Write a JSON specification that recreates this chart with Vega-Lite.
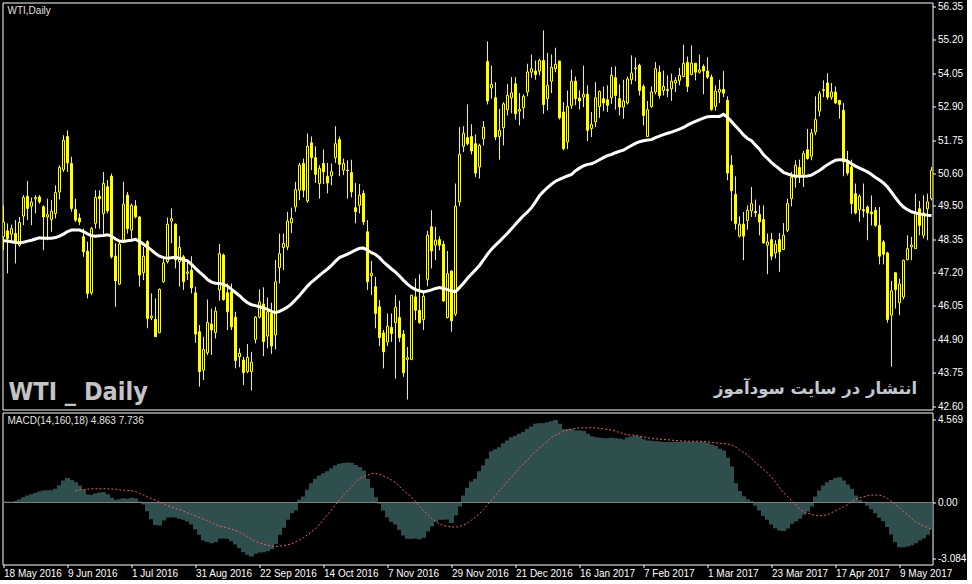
{
"$schema":"https://vega.github.io/schema/vega-lite/v6.json",
"background":"#000000",
"padding":{"left":1.5,"top":0.5,"right":0,"bottom":0},
"bounds":"flush",
"spacing":3,
"datasets":{"d":[
{"i":0,"o":48.43,"h":49.51,"l":47.97,"c":48.94,"a":48.29,"m":0.06},
{"i":1,"o":48.63,"h":48.89,"l":47.17,"c":48.37,"a":48.28,"m":0.06},
{"i":2,"o":48.52,"h":48.85,"l":48.30,"c":48.71,"a":48.26,"m":0.04},
{"i":3,"o":48.54,"h":49.00,"l":47.51,"c":48.26,"a":48.23,"m":0.09},
{"i":4,"o":48.14,"h":49.11,"l":48.08,"c":48.92,"a":48.22,"m":0.17},
{"i":5,"o":49.14,"h":49.86,"l":48.83,"c":49.78,"a":48.24,"m":0.29},
{"i":6,"o":49.82,"h":50.35,"l":49.00,"c":49.40,"a":48.28,"m":0.39},
{"i":7,"o":49.48,"h":49.78,"l":48.83,"c":49.62,"a":48.31,"m":0.46},
{"i":8,"o":49.73,"h":49.86,"l":49.23,"c":49.78,"a":48.35,"m":0.53},
{"i":9,"o":49.80,"h":49.86,"l":49.57,"c":49.63,"a":48.39,"m":0.61},
{"i":10,"o":49.46,"h":49.51,"l":47.97,"c":49.11,"a":48.38,"m":0.66},
{"i":11,"o":49.11,"h":49.74,"l":48.31,"c":49.19,"a":48.38,"m":0.68},
{"i":12,"o":49.02,"h":49.69,"l":48.60,"c":49.31,"a":48.38,"m":0.68},
{"i":13,"o":49.23,"h":50.20,"l":49.06,"c":49.95,"a":48.40,"m":0.76},
{"i":14,"o":49.97,"h":50.89,"l":49.71,"c":50.81,"a":48.45,"m":0.96},
{"i":15,"o":50.74,"h":51.92,"l":50.66,"c":51.75,"a":48.52,"m":1.22},
{"i":16,"o":51.88,"h":52.09,"l":50.66,"c":50.97,"a":48.61,"m":1.35},
{"i":17,"o":50.95,"h":51.18,"l":49.29,"c":49.40,"a":48.66,"m":1.25},
{"i":18,"o":49.37,"h":49.74,"l":48.94,"c":49.00,"a":48.66,"m":1.12,"s":0.65},
{"i":19,"o":49.07,"h":49.23,"l":48.83,"c":48.94,"a":48.66,"m":0.94,"s":0.70},
{"i":20,"o":48.43,"h":48.71,"l":47.74,"c":47.91,"a":48.61,"m":0.70,"s":0.72},
{"i":21,"o":47.93,"h":48.26,"l":46.31,"c":46.48,"a":48.53,"m":0.44,"s":0.74},
{"i":22,"o":46.50,"h":48.77,"l":46.42,"c":48.71,"a":48.46,"m":0.41,"s":0.76},
{"i":23,"o":48.89,"h":50.03,"l":48.71,"c":49.78,"a":48.45,"m":0.50,"s":0.76},
{"i":24,"o":49.82,"h":50.03,"l":48.71,"c":49.74,"a":48.46,"m":0.55,"s":0.76},
{"i":25,"o":49.23,"h":50.66,"l":48.48,"c":50.26,"a":48.47,"m":0.57,"s":0.76},
{"i":26,"o":50.15,"h":50.38,"l":49.23,"c":49.32,"a":48.50,"m":0.46,"s":0.76},
{"i":27,"o":50.51,"h":50.60,"l":47.68,"c":47.74,"a":48.45,"m":0.26,"s":0.74},
{"i":28,"o":47.76,"h":48.20,"l":46.02,"c":46.91,"a":48.35,"m":0.15,"s":0.74},
{"i":29,"o":46.80,"h":48.26,"l":46.77,"c":48.18,"a":48.28,"m":0.18,"s":0.70},
{"i":30,"o":48.31,"h":50.32,"l":48.26,"c":49.55,"a":48.27,"m":0.24,"s":0.68},
{"i":31,"o":49.86,"h":49.97,"l":48.54,"c":48.71,"a":48.29,"m":0.20,"s":0.66},
{"i":32,"o":48.66,"h":49.57,"l":48.26,"c":49.51,"a":48.31,"m":0.26,"s":0.65},
{"i":33,"o":49.49,"h":49.69,"l":49.06,"c":49.11,"a":48.34,"m":0.22,"s":0.61},
{"i":34,"o":49.11,"h":49.14,"l":46.71,"c":47.11,"a":48.27,"m":0.06,"s":0.50},
{"i":35,"o":47.19,"h":48.08,"l":46.94,"c":47.76,"a":48.17,"m":-0.11,"s":0.41},
{"i":36,"o":48.26,"h":48.31,"l":45.28,"c":45.62,"a":48.08,"m":-0.48,"s":0.31},
{"i":37,"o":45.64,"h":46.48,"l":45.56,"c":45.70,"a":47.97,"m":-0.92,"s":0.22},
{"i":38,"o":45.59,"h":46.31,"l":44.99,"c":44.99,"a":47.85,"m":-1.24,"s":0.13},
{"i":39,"o":45.13,"h":46.65,"l":45.11,"c":46.62,"a":47.76,"m":-1.27,"s":0.04},
{"i":40,"o":46.88,"h":47.68,"l":46.85,"c":47.53,"a":47.71,"m":-1.00,"s":-0.06},
{"i":41,"o":47.57,"h":49.09,"l":47.51,"c":48.86,"a":47.69,"m":-0.83,"s":-0.17},
{"i":42,"o":48.97,"h":49.40,"l":48.20,"c":49.05,"a":47.71,"m":-0.81,"s":-0.24},
{"i":43,"o":48.86,"h":48.89,"l":47.34,"c":47.63,"a":47.72,"m":-0.83,"s":-0.33},
{"i":44,"o":47.57,"h":48.45,"l":46.71,"c":48.06,"a":47.69,"m":-0.90,"s":-0.39},
{"i":45,"o":47.74,"h":47.80,"l":46.60,"c":46.88,"a":47.64,"m":-0.96,"s":-0.48},
{"i":46,"o":47.17,"h":47.57,"l":46.94,"c":47.22,"a":47.60,"m":-1.05,"s":-0.57},
{"i":47,"o":47.28,"h":47.76,"l":46.48,"c":46.67,"a":47.48,"m":-1.22,"s":-0.66},
{"i":48,"o":46.50,"h":46.71,"l":44.78,"c":45.08,"a":47.34,"m":-1.49,"s":-0.74},
{"i":49,"o":45.16,"h":45.39,"l":43.27,"c":43.79,"a":47.21,"m":-1.79,"s":-0.83},
{"i":50,"o":43.84,"h":44.99,"l":43.50,"c":44.55,"a":47.09,"m":-2.10,"s":-0.92},
{"i":51,"o":44.44,"h":46.27,"l":44.36,"c":45.48,"a":46.96,"m":-2.19,"s":-1.01},
{"i":52,"o":45.43,"h":45.96,"l":44.36,"c":45.22,"a":46.87,"m":-2.25,"s":-1.12},
{"i":53,"o":45.13,"h":46.02,"l":44.93,"c":45.87,"a":46.83,"m":-2.18,"s":-1.22},
{"i":54,"o":46.60,"h":48.18,"l":46.23,"c":47.85,"a":46.82,"m":-2.01,"s":-1.31},
{"i":55,"o":47.80,"h":47.85,"l":46.23,"c":46.27,"a":46.79,"m":-1.99,"s":-1.36},
{"i":56,"o":46.50,"h":46.82,"l":45.22,"c":45.85,"a":46.73,"m":-2.01,"s":-1.40},
{"i":57,"o":46.54,"h":46.82,"l":45.22,"c":45.33,"a":46.62,"m":-2.14,"s":-1.47},
{"i":58,"o":45.66,"h":45.85,"l":43.90,"c":44.17,"a":46.51,"m":-2.32,"s":-1.55},
{"i":59,"o":44.30,"h":44.59,"l":43.94,"c":44.42,"a":46.40,"m":-2.51,"s":-1.64},
{"i":60,"o":44.19,"h":44.30,"l":43.33,"c":43.75,"a":46.27,"m":-2.75,"s":-1.77},
{"i":61,"o":43.79,"h":44.74,"l":43.73,"c":44.28,"a":46.16,"m":-2.89,"s":-1.90},
{"i":62,"o":43.79,"h":44.47,"l":43.14,"c":44.11,"a":46.09,"m":-2.99,"s":-2.03},
{"i":63,"o":44.90,"h":45.70,"l":44.76,"c":45.66,"a":46.06,"m":-2.84,"s":-2.16},
{"i":64,"o":45.66,"h":46.62,"l":45.62,"c":46.19,"a":46.02,"m":-2.77,"s":-2.23},
{"i":65,"o":46.11,"h":46.69,"l":44.32,"c":44.82,"a":45.98,"m":-2.75,"s":-2.30},
{"i":66,"o":45.01,"h":46.34,"l":44.59,"c":45.85,"a":45.93,"m":-2.69,"s":-2.36},
{"i":67,"o":45.79,"h":46.16,"l":44.40,"c":44.67,"a":45.86,"m":-2.58,"s":-2.40},
{"i":68,"o":45.05,"h":47.63,"l":44.55,"c":46.88,"a":45.82,"m":-2.29,"s":-2.43},
{"i":69,"o":47.37,"h":48.54,"l":46.82,"c":47.85,"a":45.86,"m":-1.79,"s":-2.42},
{"i":70,"o":48.06,"h":48.54,"l":47.28,"c":48.20,"a":45.93,"m":-1.40,"s":-2.38},
{"i":71,"o":48.08,"h":49.29,"l":47.97,"c":48.97,"a":46.01,"m":-0.96,"s":-2.34},
{"i":72,"o":48.91,"h":49.43,"l":48.56,"c":49.06,"a":46.12,"m":-0.59,"s":-2.29},
{"i":73,"o":49.46,"h":50.32,"l":49.29,"c":50.05,"a":46.26,"m":-0.44,"s":-2.19},
{"i":74,"o":50.03,"h":50.97,"l":49.69,"c":50.89,"a":46.41,"m":0.15,"s":-2.08},
{"i":75,"o":50.95,"h":51.12,"l":49.78,"c":50.03,"a":46.57,"m":0.33,"s":-1.94},
{"i":76,"o":49.66,"h":51.98,"l":49.60,"c":51.54,"a":46.73,"m":0.70,"s":-1.79},
{"i":77,"o":51.66,"h":51.88,"l":50.72,"c":51.15,"a":46.87,"m":1.07,"s":-1.62},
{"i":78,"o":51.15,"h":51.54,"l":50.28,"c":50.58,"a":46.98,"m":1.31,"s":-1.46},
{"i":79,"o":50.26,"h":50.89,"l":49.74,"c":50.78,"a":47.10,"m":1.49,"s":-1.22},
{"i":80,"o":50.95,"h":51.43,"l":50.24,"c":50.66,"a":47.21,"m":1.62,"s":-0.94},
{"i":81,"o":50.51,"h":50.97,"l":49.92,"c":50.28,"a":47.32,"m":1.73,"s":-0.68},
{"i":82,"o":50.53,"h":50.95,"l":50.20,"c":50.67,"a":47.44,"m":1.88,"s":-0.41},
{"i":83,"o":51.15,"h":52.23,"l":50.97,"c":51.63,"a":47.59,"m":2.05,"s":-0.13},
{"i":84,"o":51.77,"h":51.88,"l":50.51,"c":50.92,"a":47.71,"m":2.14,"s":0.15},
{"i":85,"o":50.72,"h":51.12,"l":50.55,"c":50.95,"a":47.77,"m":2.18,"s":0.41},
{"i":86,"o":50.72,"h":51.06,"l":49.74,"c":50.70,"a":47.83,"m":2.21,"s":0.65},
{"i":87,"o":50.64,"h":51.08,"l":49.78,"c":49.97,"a":47.90,"m":2.18,"s":0.87},
{"i":88,"o":49.43,"h":50.28,"l":48.89,"c":49.29,"a":47.97,"m":2.08,"s":1.11},
{"i":89,"o":49.51,"h":50.24,"l":49.23,"c":49.86,"a":48.03,"m":1.97,"s":1.31},
{"i":90,"o":49.92,"h":50.03,"l":48.83,"c":48.94,"a":48.04,"m":1.77,"s":1.44},
{"i":91,"o":48.60,"h":49.00,"l":46.60,"c":46.88,"a":47.97,"m":1.31,"s":1.53},
{"i":92,"o":47.09,"h":47.60,"l":46.42,"c":47.17,"a":47.88,"m":0.81,"s":1.60},
{"i":93,"o":46.71,"h":47.05,"l":45.28,"c":45.79,"a":47.82,"m":0.29,"s":1.60},
{"i":94,"o":46.02,"h":46.25,"l":44.67,"c":44.96,"a":47.71,"m":-0.07,"s":1.57},
{"i":95,"o":45.12,"h":45.22,"l":43.90,"c":44.47,"a":47.56,"m":-0.44,"s":1.47},
{"i":96,"o":44.81,"h":45.79,"l":44.67,"c":45.35,"a":47.44,"m":-0.81,"s":1.38},
{"i":97,"o":45.31,"h":45.79,"l":44.81,"c":45.10,"a":47.32,"m":-1.07,"s":1.25},
{"i":98,"o":45.47,"h":46.42,"l":43.55,"c":46.00,"a":47.21,"m":-1.22,"s":1.11},
{"i":99,"o":45.65,"h":46.23,"l":44.81,"c":44.96,"a":47.08,"m":-1.51,"s":0.90},
{"i":100,"o":45.08,"h":45.22,"l":43.61,"c":43.75,"a":46.93,"m":-1.83,"s":0.66},
{"i":101,"o":44.21,"h":44.64,"l":42.83,"c":44.27,"a":46.80,"m":-2.01,"s":0.48},
{"i":102,"o":44.21,"h":46.42,"l":44.18,"c":46.42,"a":46.69,"m":-2.01,"s":0.29},
{"i":103,"o":46.36,"h":46.99,"l":45.56,"c":45.90,"a":46.61,"m":-1.99,"s":0.04},
{"i":104,"o":45.90,"h":47.14,"l":45.44,"c":45.47,"a":46.57,"m":-2.03,"s":-0.22},
{"i":105,"o":45.58,"h":46.57,"l":45.22,"c":46.38,"a":46.53,"m":-1.95,"s":-0.44},
{"i":106,"o":46.96,"h":48.63,"l":46.73,"c":48.48,"a":46.56,"m":-1.60,"s":-0.66},
{"i":107,"o":48.77,"h":49.34,"l":47.34,"c":47.94,"a":46.60,"m":-1.33,"s":-0.87},
{"i":108,"o":48.14,"h":48.77,"l":47.62,"c":48.31,"a":46.65,"m":-1.07,"s":-1.05},
{"i":109,"o":48.33,"h":48.45,"l":47.96,"c":48.14,"a":46.68,"m":-0.96,"s":-1.18},
{"i":110,"o":48.17,"h":48.29,"l":46.19,"c":46.22,"a":46.65,"m":-0.96,"s":-1.27},
{"i":111,"o":45.65,"h":47.94,"l":45.62,"c":47.16,"a":46.61,"m":-0.94,"s":-1.33},
{"i":112,"o":47.25,"h":47.27,"l":45.16,"c":45.54,"a":46.56,"m":-1.14,"s":-1.35},
{"i":113,"o":45.77,"h":50.26,"l":45.70,"c":49.48,"a":46.54,"m":-0.72,"s":-1.36},
{"i":114,"o":49.63,"h":52.20,"l":49.48,"c":51.26,"a":46.68,"m":-0.22,"s":-1.33},
{"i":115,"o":51.54,"h":52.23,"l":51.34,"c":51.99,"a":46.83,"m":0.39,"s":-1.25},
{"i":116,"o":51.84,"h":52.98,"l":51.57,"c":51.63,"a":47.00,"m":0.81,"s":-1.14},
{"i":117,"o":51.88,"h":52.30,"l":51.26,"c":51.38,"a":47.15,"m":1.16,"s":-0.98},
{"i":118,"o":51.63,"h":51.95,"l":50.48,"c":50.62,"a":47.29,"m":1.31,"s":-0.81},
{"i":119,"o":50.83,"h":51.63,"l":50.43,"c":51.57,"a":47.44,"m":1.73,"s":-0.61},
{"i":120,"o":51.80,"h":52.41,"l":51.57,"c":52.20,"a":47.63,"m":2.05,"s":-0.39},
{"i":121,"o":54.46,"h":55.15,"l":52.98,"c":53.10,"a":47.83,"m":2.42,"s":-0.11},
{"i":122,"o":53.55,"h":54.32,"l":53.18,"c":53.67,"a":48.00,"m":2.84,"s":0.13},
{"i":123,"o":53.21,"h":53.75,"l":51.75,"c":51.86,"a":48.14,"m":2.95,"s":0.39},
{"i":124,"o":51.88,"h":52.83,"l":51.08,"c":52.09,"a":48.27,"m":3.06,"s":0.66},
{"i":125,"o":52.18,"h":53.06,"l":51.57,"c":53.00,"a":48.41,"m":3.28,"s":0.90},
{"i":126,"o":52.80,"h":53.69,"l":52.60,"c":53.29,"a":48.55,"m":3.43,"s":1.16},
{"i":127,"o":53.21,"h":53.92,"l":52.68,"c":53.38,"a":48.70,"m":3.61,"s":1.40},
{"i":128,"o":53.69,"h":53.92,"l":52.46,"c":52.66,"a":48.86,"m":3.69,"s":1.66},
{"i":129,"o":52.75,"h":53.37,"l":52.26,"c":52.81,"a":49.01,"m":3.80,"s":1.92},
{"i":130,"o":52.87,"h":53.33,"l":52.49,"c":53.26,"a":49.16,"m":3.91,"s":2.14},
{"i":131,"o":53.41,"h":54.38,"l":53.26,"c":54.10,"a":49.28,"m":4.06,"s":2.36},
{"i":132,"o":54.09,"h":54.70,"l":53.90,"c":54.21,"a":49.43,"m":4.20,"s":2.60},
{"i":133,"o":54.13,"h":54.49,"l":53.83,"c":54.01,"a":49.63,"m":4.35,"s":2.82},
{"i":134,"o":54.13,"h":54.55,"l":53.98,"c":54.49,"a":49.84,"m":4.39,"s":3.02},
{"i":135,"o":54.49,"h":55.53,"l":52.66,"c":52.98,"a":49.99,"m":4.39,"s":3.21},
{"i":136,"o":53.18,"h":54.75,"l":52.78,"c":53.64,"a":50.12,"m":4.44,"s":3.39},
{"i":137,"o":53.78,"h":54.70,"l":53.37,"c":54.26,"a":50.24,"m":4.50,"s":3.60},
{"i":138,"o":54.21,"h":54.93,"l":54.09,"c":54.36,"a":50.34,"m":4.57,"s":3.74},
{"i":139,"o":54.47,"h":54.49,"l":52.46,"c":52.52,"a":50.40,"m":4.35,"s":3.83},
{"i":140,"o":52.72,"h":53.06,"l":51.40,"c":51.46,"a":50.46,"m":4.07,"s":3.93},
{"i":141,"o":51.69,"h":53.46,"l":51.44,"c":52.91,"a":50.52,"m":4.07,"s":4.00},
{"i":142,"o":52.95,"h":54.18,"l":52.83,"c":53.78,"a":50.57,"m":4.06,"s":4.06},
{"i":143,"o":53.78,"h":53.94,"l":52.95,"c":53.18,"a":50.70,"m":3.98,"s":4.11},
{"i":144,"o":53.20,"h":53.46,"l":52.81,"c":53.10,"a":50.79,"m":3.98,"s":4.13},
{"i":145,"o":53.23,"h":54.32,"l":52.89,"c":53.33,"a":50.87,"m":3.95,"s":4.13},
{"i":146,"o":53.33,"h":53.64,"l":51.72,"c":52.09,"a":50.92,"m":3.80,"s":4.13},
{"i":147,"o":52.15,"h":52.72,"l":51.86,"c":52.29,"a":50.94,"m":3.67,"s":4.13},
{"i":148,"o":52.38,"h":53.75,"l":52.20,"c":53.21,"a":51.00,"m":3.61,"s":4.13},
{"i":149,"o":52.91,"h":53.46,"l":52.52,"c":53.43,"a":51.08,"m":3.58,"s":4.11},
{"i":150,"o":53.18,"h":53.60,"l":52.75,"c":53.03,"a":51.15,"m":3.56,"s":4.07},
{"i":151,"o":53.14,"h":53.64,"l":52.72,"c":52.95,"a":51.22,"m":3.56,"s":4.04},
{"i":152,"o":53.21,"h":54.27,"l":53.00,"c":53.98,"a":51.26,"m":3.58,"s":4.00},
{"i":153,"o":53.90,"h":54.29,"l":52.80,"c":53.29,"a":51.32,"m":3.56,"s":3.95},
{"i":154,"o":53.18,"h":53.67,"l":52.60,"c":52.89,"a":51.37,"m":3.52,"s":3.87},
{"i":155,"o":52.89,"h":53.83,"l":52.49,"c":53.10,"a":51.41,"m":3.48,"s":3.80},
{"i":156,"o":53.03,"h":53.94,"l":52.98,"c":53.86,"a":51.49,"m":3.60,"s":3.74},
{"i":157,"o":53.83,"h":54.67,"l":53.67,"c":54.06,"a":51.57,"m":3.65,"s":3.74},
{"i":158,"o":54.21,"h":54.59,"l":53.78,"c":54.24,"a":51.64,"m":3.69,"s":3.71},
{"i":159,"o":54.32,"h":54.38,"l":53.29,"c":53.46,"a":51.70,"m":3.65,"s":3.67},
{"i":160,"o":53.60,"h":53.67,"l":52.26,"c":52.60,"a":51.73,"m":3.50,"s":3.63},
{"i":161,"o":51.88,"h":53.10,"l":51.88,"c":52.80,"a":51.76,"m":3.43,"s":3.58},
{"i":162,"o":52.91,"h":53.60,"l":52.87,"c":53.41,"a":51.77,"m":3.41,"s":3.54},
{"i":163,"o":53.41,"h":54.44,"l":53.33,"c":54.21,"a":51.84,"m":3.39,"s":3.52},
{"i":164,"o":54.09,"h":54.32,"l":53.18,"c":53.29,"a":51.89,"m":3.37,"s":3.50},
{"i":165,"o":53.46,"h":54.15,"l":53.29,"c":53.60,"a":51.94,"m":3.34,"s":3.48},
{"i":166,"o":53.49,"h":53.98,"l":53.23,"c":53.46,"a":51.99,"m":3.34,"s":3.47},
{"i":167,"o":53.52,"h":54.04,"l":53.10,"c":53.78,"a":52.03,"m":3.34,"s":3.45},
{"i":168,"o":53.72,"h":53.92,"l":53.41,"c":53.81,"a":52.08,"m":3.34,"s":3.43},
{"i":169,"o":53.81,"h":54.24,"l":53.64,"c":53.98,"a":52.13,"m":3.34,"s":3.41},
{"i":170,"o":53.94,"h":55.04,"l":53.92,"c":54.40,"a":52.19,"m":3.36,"s":3.39},
{"i":171,"o":54.43,"h":54.63,"l":53.41,"c":53.60,"a":52.27,"m":3.36,"s":3.39},
{"i":172,"o":54.01,"h":55.01,"l":53.98,"c":54.40,"a":52.34,"m":3.36,"s":3.39},
{"i":173,"o":54.40,"h":54.40,"l":53.81,"c":54.09,"a":52.40,"m":3.36,"s":3.39},
{"i":174,"o":54.09,"h":54.70,"l":54.04,"c":54.17,"a":52.46,"m":3.36,"s":3.39},
{"i":175,"o":54.29,"h":54.36,"l":53.33,"c":54.13,"a":52.51,"m":3.34,"s":3.37},
{"i":176,"o":54.13,"h":54.61,"l":53.86,"c":53.92,"a":52.56,"m":3.30,"s":3.36},
{"i":177,"o":53.92,"h":54.01,"l":52.77,"c":52.80,"a":52.57,"m":3.21,"s":3.32},
{"i":178,"o":52.91,"h":53.64,"l":52.77,"c":53.44,"a":52.57,"m":3.12,"s":3.30},
{"i":179,"o":53.41,"h":53.83,"l":53.03,"c":53.50,"a":52.57,"m":2.97,"s":3.28},
{"i":180,"o":53.50,"h":54.13,"l":53.23,"c":53.37,"a":52.64,"m":2.88,"s":3.26},
{"i":181,"o":53.12,"h":53.26,"l":50.37,"c":50.62,"a":52.54,"m":2.47,"s":3.23},
{"i":182,"o":50.89,"h":51.23,"l":48.97,"c":50.01,"a":52.39,"m":1.99,"s":3.19},
{"i":183,"o":49.89,"h":50.51,"l":48.67,"c":48.88,"a":52.24,"m":1.07,"s":3.08},
{"i":184,"o":48.45,"h":49.13,"l":48.40,"c":48.86,"a":52.09,"m":0.63,"s":2.91},
{"i":185,"o":48.86,"h":49.28,"l":47.62,"c":48.45,"a":51.93,"m":0.35,"s":2.77},
{"i":186,"o":48.99,"h":49.51,"l":48.67,"c":49.34,"a":51.81,"m":0.18,"s":2.62},
{"i":187,"o":49.32,"h":50.14,"l":49.11,"c":49.57,"a":51.73,"m":0.07,"s":2.43},
{"i":188,"o":49.30,"h":49.71,"l":49.11,"c":49.25,"a":51.58,"m":-0.18,"s":2.23},
{"i":189,"o":49.20,"h":49.51,"l":48.48,"c":48.94,"a":51.44,"m":-0.44,"s":2.03},
{"i":190,"o":49.02,"h":49.51,"l":48.19,"c":48.22,"a":51.25,"m":-0.74,"s":1.83},
{"i":191,"o":48.14,"h":48.54,"l":47.14,"c":48.25,"a":51.12,"m":-0.96,"s":1.64},
{"i":192,"o":48.33,"h":48.56,"l":47.62,"c":47.76,"a":50.98,"m":-1.22,"s":1.40},
{"i":193,"o":47.87,"h":48.31,"l":47.68,"c":48.17,"a":50.87,"m":-1.42,"s":1.14},
{"i":194,"o":48.33,"h":48.56,"l":47.22,"c":47.91,"a":50.76,"m":-1.55,"s":0.81},
{"i":195,"o":47.99,"h":48.90,"l":47.97,"c":48.48,"a":50.64,"m":-1.57,"s":0.55},
{"i":196,"o":48.65,"h":49.74,"l":48.59,"c":49.57,"a":50.59,"m":-1.44,"s":0.33},
{"i":197,"o":49.74,"h":50.66,"l":49.48,"c":50.48,"a":50.54,"m":-1.18,"s":0.11},
{"i":198,"o":50.46,"h":51.06,"l":50.12,"c":50.89,"a":50.52,"m":-1.05,"s":-0.09},
{"i":199,"o":50.81,"h":51.08,"l":50.28,"c":50.54,"a":50.51,"m":-0.90,"s":-0.35},
{"i":200,"o":50.58,"h":51.38,"l":50.14,"c":51.29,"a":50.51,"m":-0.68,"s":-0.50},
{"i":201,"o":51.42,"h":52.14,"l":51.08,"c":51.12,"a":50.52,"m":-0.50,"s":-0.59},
{"i":202,"o":51.20,"h":52.14,"l":51.06,"c":52.00,"a":50.55,"m":-0.22,"s":-0.66},
{"i":203,"o":52.03,"h":53.26,"l":51.92,"c":52.46,"a":50.63,"m":0.33,"s":-0.72},
{"i":204,"o":52.75,"h":53.44,"l":52.57,"c":53.35,"a":50.71,"m":0.66,"s":-0.74},
{"i":205,"o":53.46,"h":53.81,"l":53.23,"c":53.49,"a":50.81,"m":0.94,"s":-0.72},
{"i":206,"o":53.72,"h":54.06,"l":53.14,"c":53.23,"a":50.91,"m":1.12,"s":-0.68},
{"i":207,"o":53.23,"h":53.72,"l":53.14,"c":53.41,"a":50.99,"m":1.25,"s":-0.57},
{"i":208,"o":53.41,"h":53.60,"l":53.00,"c":53.03,"a":51.06,"m":1.36,"s":-0.46},
{"i":209,"o":53.12,"h":53.12,"l":52.49,"c":52.98,"a":51.08,"m":1.40,"s":-0.35},
{"i":210,"o":52.78,"h":53.03,"l":50.51,"c":51.00,"a":51.08,"m":1.22,"s":-0.24},
{"i":211,"o":51.00,"h":51.38,"l":50.54,"c":50.62,"a":51.03,"m":1.00,"s":-0.13},
{"i":212,"o":50.83,"h":51.08,"l":49.22,"c":49.57,"a":50.94,"m":0.76,"s":0.06},
{"i":213,"o":49.91,"h":50.26,"l":49.20,"c":49.25,"a":50.86,"m":0.39,"s":0.17},
{"i":214,"o":49.36,"h":49.89,"l":48.94,"c":49.82,"a":50.79,"m":0.15,"s":0.26},
{"i":215,"o":49.36,"h":50.26,"l":49.09,"c":49.32,"a":50.73,"m":0.04,"s":0.31},
{"i":216,"o":49.45,"h":49.51,"l":48.31,"c":49.25,"a":50.66,"m":-0.18,"s":0.37},
{"i":217,"o":49.28,"h":49.85,"l":48.82,"c":49.22,"a":50.57,"m":-0.37,"s":0.41},
{"i":218,"o":49.34,"h":49.45,"l":48.77,"c":48.82,"a":50.47,"m":-0.59,"s":0.41},
{"i":219,"o":48.82,"h":49.45,"l":47.48,"c":47.76,"a":50.38,"m":-0.85,"s":0.41},
{"i":220,"o":48.25,"h":48.31,"l":47.48,"c":47.83,"a":50.28,"m":-1.03,"s":0.33},
{"i":221,"o":47.87,"h":47.91,"l":45.47,"c":45.58,"a":50.14,"m":-1.36,"s":0.22},
{"i":222,"o":45.73,"h":46.91,"l":43.96,"c":46.57,"a":49.96,"m":-1.77,"s":0.06},
{"i":223,"o":47.19,"h":47.22,"l":45.96,"c":46.61,"a":49.77,"m":-2.19,"s":-0.13},
{"i":224,"o":46.16,"h":46.99,"l":45.73,"c":46.80,"a":49.59,"m":-2.47,"s":-0.28},
{"i":225,"o":46.36,"h":47.64,"l":46.27,"c":47.62,"a":49.45,"m":-2.47,"s":-0.50},
{"i":226,"o":47.64,"h":48.48,"l":47.62,"c":48.02,"a":49.36,"m":-2.43,"s":-0.68},
{"i":227,"o":48.08,"h":48.42,"l":47.62,"c":48.14,"a":49.29,"m":-2.36,"s":-0.88},
{"i":228,"o":48.02,"h":49.91,"l":48.02,"c":49.22,"a":49.25,"m":-2.25,"s":-1.05},
{"i":229,"o":49.39,"h":49.66,"l":48.48,"c":48.82,"a":49.21,"m":-2.10,"s":-1.18},
{"i":230,"o":48.48,"h":49.85,"l":48.37,"c":49.25,"a":49.19,"m":-1.99,"s":-1.31},
{"i":231,"o":49.39,"h":49.91,"l":48.31,"c":49.63,"a":49.17,"m":-1.79,"s":-1.38},
{"i":232,"o":49.74,"h":50.83,"l":49.68,"c":50.71,"a":49.16,"m":-1.51,"s":-1.47}
]},
"vconcat":[
{
"width":930,"height":407,
"layer":[
{"data":{"name":"d"},"mark":{"type":"rule","color":"#ffff00","strokeWidth":1,"clip":true},
 "encoding":{
  "x":{"field":"i","type":"quantitative","scale":{"domain":[-0.25,232.25],"nice":false,"zero":false,"padding":0},"axis":null},
  "y":{"field":"l","type":"quantitative","scale":{"domain":[42.486,56.488],"nice":false,"zero":false,"padding":0},
   "axis":{"orient":"right","values":[56.35,55.2,54.05,52.9,51.75,50.6,49.5,48.35,47.2,46.05,44.9,43.75,42.6],"tickCount":30,"format":".2f","title":null,"labelOverlap":false}},
  "y2":{"field":"h"}}},
{"data":{"name":"d"},"mark":{"type":"bar","width":2,"stroke":"#ffff00","strokeWidth":1,"clip":true},
 "encoding":{
  "x":{"field":"i","type":"quantitative"},
  "y":{"field":"o","type":"quantitative"},
  "y2":{"field":"c"},
  "fill":{"condition":{"test":"datum.c > datum.o","value":"#000000"},"value":"#ffff00"}}},
{"data":{"name":"d"},"mark":{"type":"line","color":"#ffffff","strokeWidth":3,"clip":true},
 "encoding":{"x":{"field":"i","type":"quantitative"},"y":{"field":"a","type":"quantitative"}}},
{"data":{"values":[{"t":"WTI,Daily"}]},"mark":{"type":"text","align":"left","baseline":"middle","font":"Liberation Sans","fontSize":10,"color":"#e0e0e0"},
 "encoding":{"x":{"datum":1.0,"type":"quantitative"},"y":{"datum":56.2,"type":"quantitative"},"text":{"field":"t"}}},
{"data":{"values":[{"t":"WTI _ Daily"}]},"mark":{"type":"text","align":"left","baseline":"alphabetic","font":"DejaVu Sans Condensed","fontSize":25,"fontWeight":"bold","color":"#c4c4c4"},
 "encoding":{"x":{"datum":1.25,"type":"quantitative"},"y":{"datum":42.814,"type":"quantitative"},"text":{"field":"t"}}},
{"data":{"values":[{"t":"انتشار در سایت سودآموز"}]},"mark":{"type":"text","align":"right","baseline":"alphabetic","font":"DejaVu Sans","fontSize":16.5,"fontWeight":"bold","color":"#c0c8d0"},
 "encoding":{"x":{"datum":228.4,"type":"quantitative"},"y":{"datum":43.02,"type":"quantitative"},"text":{"field":"t"}}}
]
},
{
"width":930,"height":152,
"layer":[
{"data":{"name":"d"},"mark":{"type":"bar","width":5,"color":"#2f4f4f","clip":true},
 "encoding":{
  "x":{"field":"i","type":"quantitative","scale":{"domain":[-0.25,232.25],"nice":false,"zero":false,"padding":0},
   "axis":{"orient":"bottom","values":[0,16,32,48,64,80,96,112,128,144,160,176,192,208,224],"tickCount":30,"labelAlign":"left","title":null,"tickSize":3,"labelPadding":1,"labelOverlap":false,
    "labelExpr":"['18 May 2016','9 Jun 2016','1 Jul 2016','31 Aug 2016','22 Sep 2016','14 Oct 2016','7 Nov 2016','29 Nov 2016','21 Dec 2016','16 Jan 2017','7 Feb 2017','1 Mar 2017','23 Mar 2017','17 Apr 2017','9 May 2017'][round(datum.value/16)]"}},
  "y":{"field":"m","type":"quantitative","scale":{"domain":[-3.429,4.978],"nice":false,"zero":false,"padding":0},
   "axis":{"orient":"right","values":[4.569,0,-3.084],"tickCount":10,"title":null,"labelOverlap":false,"labelExpr":"datum.value > 1 ? '4.569' : (datum.value < -1 ? '-3.084' : '0.00')"}},
  "y2":{"datum":0}}},
{"data":{"values":[{"z":0}]},"mark":{"type":"rule","color":"#808080","strokeWidth":1},
 "encoding":{"y":{"field":"z","type":"quantitative"}}},
{"data":{"name":"d"},"mark":{"type":"line","color":"#ff5a5a","strokeWidth":1,"strokeDash":[2,2],"clip":true},
 "encoding":{"x":{"field":"i","type":"quantitative"},"y":{"field":"s","type":"quantitative"}}},
{"data":{"values":[{"t":"MACD(14,160,18) 4.863 7.736"}]},"mark":{"type":"text","align":"left","baseline":"middle","font":"Liberation Sans","fontSize":10,"color":"#e0e0e0"},
 "encoding":{"x":{"datum":1.0,"type":"quantitative"},"y":{"datum":4.52,"type":"quantitative"},"text":{"field":"t"}}}
]
}
],
"config":{
 "view":{"stroke":"#ffffff","strokeWidth":1},
 "axis":{"labelColor":"#ffffff","tickColor":"#ffffff","domain":false,"grid":false,"labelFont":"Liberation Sans","labelFontSize":10,"tickSize":3,"labelPadding":2,"labelFlush":false,"labelOverlap":false,"labelBound":false}
}
}
